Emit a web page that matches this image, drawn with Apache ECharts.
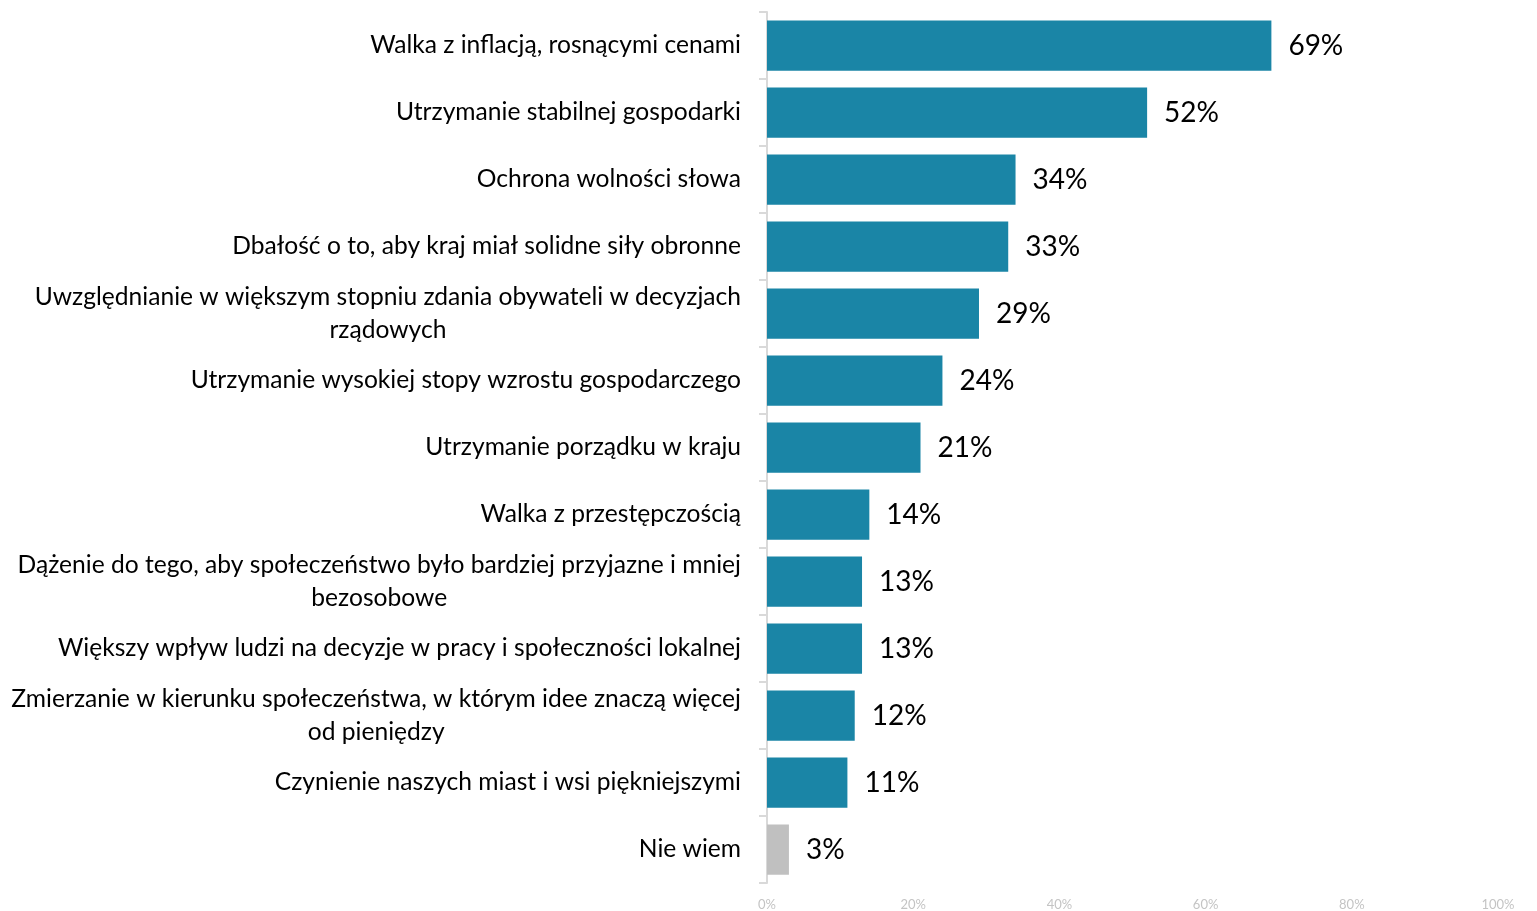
<!DOCTYPE html>
<html>
<head>
<meta charset="utf-8">
<script src="https://cdn.jsdelivr.net/npm/echarts@6/dist/echarts.min.js"></script>
<style>
html,body{margin:0;padding:0;background:#fff;}
#chart{width:1537px;height:911px;}
</style>
</head>
<body>
<div id="chart"></div>
<script>
const categories = [
  "Walka z inflacją, rosnącymi cenami",
  "Utrzymanie stabilnej gospodarki",
  "Ochrona wolności słowa",
  "Dbałość o to, aby kraj miał solidne siły obronne",
  "Uwzględnianie w większym stopniu zdania obywateli w decyzjach\nrządowych",
  "Utrzymanie wysokiej stopy wzrostu gospodarczego",
  "Utrzymanie porządku w kraju",
  "Walka z przestępczością",
  "Dążenie do tego, aby społeczeństwo było bardziej przyjazne i mniej\nbezosobowe",
  "Większy wpływ ludzi na decyzje w pracy i społeczności lokalnej",
  "Zmierzanie w kierunku społeczeństwa, w którym idee znaczą więcej\nod pieniędzy",
  "Czynienie naszych miast i wsi piękniejszymi",
  "Nie wiem"
];
const values = [69, 52, 34, 33, 29, 24, 21, 14, 13, 13, 12, 11, 3];
const highlightIndex = 12; // "Nie wiem" drawn in grey
const xTickValues = [0, 20, 40, 60, 80, 100];

const mainColor = '#1a85a6';
const greyColor = '#c0c0c0';

const chart = echarts.init(document.getElementById('chart'), null, {renderer: 'canvas'});
chart.setOption({
  animation: false,
  backgroundColor: '#ffffff',
  grid: {left: 767, right: 39, top: 12, bottom: 27, containLabel: false},
  xAxis: {
    type: 'value',
    min: 0, max: 100, interval: 20,
    axisLine: {show: false},
    axisTick: {show: false},
    splitLine: {show: false},
    axisLabel: {
      color: '#c4c4c4', fontSize: 13, fontFamily: 'Lato', margin: 15,
      formatter: v => xTickValues.includes(v) ? v + '%' : ''
    }
  },
  yAxis: {
    type: 'category',
    inverse: true,
    data: categories,
    axisLine: {show: true, lineStyle: {color: '#d9d9d9', width: 2}},
    axisTick: {show: true, length: 8, lineStyle: {color: '#d9d9d9', width: 2}},
    axisLabel: {
      margin: 26,
      fontFamily: 'Lato',
      fontSize: 24.6,
      color: '#000',
      formatter: v => v.split('\n').map(l => '{c|' + l + '}').join('\n'),
      rich: {c: {align: 'center', fontFamily: 'Lato', fontSize: 24.6, color: '#000', lineHeight: 33}}
    }
  },
  series: [{
    type: 'bar',
    data: values.map((v, i) => ({value: v, itemStyle: {color: i === highlightIndex ? greyColor : mainColor}})),
    barCategoryGap: '25%',
    label: {
      show: true, position: 'right', distance: 17,
      formatter: p => p.value + '%',
      fontFamily: 'Lato', fontSize: 28, color: '#000'
    }
  }]
});
</script>
</body>
</html>
